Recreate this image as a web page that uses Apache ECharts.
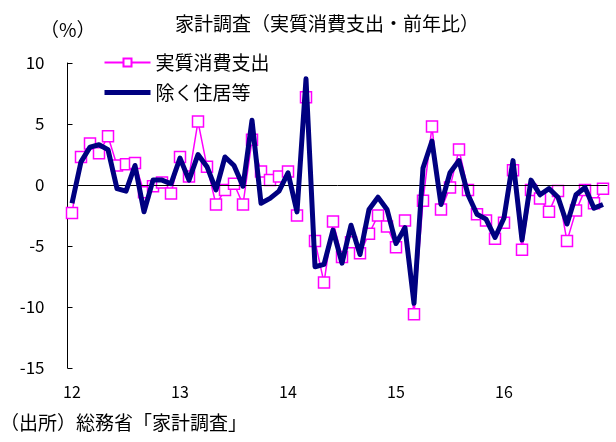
<!DOCTYPE html>
<html>
<head>
<meta charset="utf-8">
<script src="https://cdn.jsdelivr.net/npm/echarts@6/dist/echarts.min.js"></script>
<style>
html,body{margin:0;padding:0;background:#fff;}
#chart{width:616px;height:442px;}
</style>
</head>
<body>
<div id="chart"></div>
<script>
// ---- data ----
const years = [12, 13, 14, 15, 16];
const tickLabels = ["12", "13", "14", "15", "16"];
const seriesNames = ["実質消費支出", "除く住居等"];
// 実質消費支出 (y/y %), Jan 2012 - Dec 2016
const realConsumption = [
  -2.3, 2.3, 3.4, 2.6, 4.0, 1.6, 1.7, 1.8, -0.6, -0.1, 0.2, -0.7,
  2.3, 0.7, 5.2, 1.5, -1.6, -0.4, 0.1, -1.6, 3.7, 1.1, 0.4, 0.7,
  1.1, -2.5, 7.2, -4.6, -8.0, -3.0, -5.9, -4.7, -5.6, -4.0, -2.5, -3.4,
  -5.1, -2.9, -10.6, -1.3, 4.8, -2.0, -0.2, 2.9, -0.4, -2.4, -2.9, -4.4,
  -3.1, 1.2, -5.3, -0.4, -1.1, -2.2, -0.5, -4.6, -2.1, -0.4, -1.5, -0.3
];
// 除く住居等 (y/y %)
const exHousing = [
  -1.5, 1.9, 3.1, 3.3, 2.9, -0.3, -0.5, 1.6, -2.2, 0.4, 0.4, 0.1,
  2.2, 0.4, 2.5, 1.5, -0.4, 2.3, 1.6, -0.1, 5.3, -1.5, -1.1, -0.5,
  1.0, -2.2, 8.7, -6.7, -6.5, -3.7, -6.4, -3.3, -5.7, -2.0, -1.0, -2.0,
  -4.8, -3.5, -9.7, 1.4, 3.6, -1.6, 1.0, 2.0, -0.8, -2.4, -2.8, -4.3,
  -2.7, 2.0, -4.5, 0.4, -0.8, -0.3, -1.0, -3.2, -0.8, -0.2, -1.9, -1.6
];
const titleText = "家計調査（実質消費支出・前年比）";
const unitText = "（%）";
const sourceText = "（出所）総務省「家計調査」";

// categories: one per month
const categories = [];
years.forEach((y, yi) => {
  for (let m = 1; m <= 12; m++) categories.push(m === 1 ? tickLabels[yi] : y + "/" + m);
});

const FONT = '"Noto Sans CJK JP", "Noto Sans", sans-serif';
const chart = echarts.init(document.getElementById('chart'), null, {renderer: 'canvas'});
chart.setOption({
  animation: false,
  backgroundColor: '#fff',
  textStyle: {fontFamily: FONT, color: '#000'},
  title: {
    text: titleText,
    left: 170, top: 9,
    textStyle: {fontFamily: FONT, fontSize: 19, fontWeight: 'normal', color: '#000'}
  },
  graphic: [
    {type: 'text', left: 40, top: 20, style: {text: unitText, font: '19px ' + FONT, fill: '#000'}},
    {type: 'text', left: 0, top: 413, style: {text: sourceText, font: '19px ' + FONT, fill: '#000'}}
  ],
  legend: {
    orient: 'vertical',
    left: 102, top: 53, padding: 0,
    itemWidth: 46, itemHeight: 10, itemGap: 11,
    textStyle: {fontFamily: FONT, fontSize: 19, color: '#000', padding: [0, 0, 0, 0]},
    data: [
      {name: seriesNames[0]},
      {name: seriesNames[1], itemStyle: {opacity: 0}, lineStyle: {width: 5, color: '#000080'}}
    ]
  },
  grid: {left: 67.5, top: 63, width: 540, height: 305, containLabel: false},
  xAxis: {
    type: 'category',
    data: categories,
    boundaryGap: true,
    axisLine: {show: false, onZero: false},
    axisTick: {show: false},
    axisLabel: {
      interval: 11, margin: 16,
      fontSize: 16, fontFamily: FONT, color: '#000',
      formatter: v => (tickLabels.indexOf(v) >= 0 ? v : '')
    },
    splitLine: {show: false}
  },
  yAxis: {
    type: 'value',
    min: -15, max: 10, interval: 5,
    axisLine: {show: true, onZero: false, lineStyle: {color: '#000', width: 1}},
    axisTick: {show: true, inside: true, length: 5, lineStyle: {color: '#000'}},
    axisLabel: {margin: 23, fontSize: 17, fontFamily: FONT, color: '#000'},
    splitLine: {show: false}
  },
  series: [
    {
      name: seriesNames[0],
      type: 'line',
      data: realConsumption,
      z: 2,
      symbol: 'rect',
      symbolSize: 11,
      showAllSymbol: true,
      itemStyle: {color: '#ffffff', borderColor: '#ff00ff', borderWidth: 1.5},
      lineStyle: {color: '#ff00ff', width: 1.5},
      color: '#ff00ff',
      markLine: {
        silent: true, symbol: ['none', 'none'],
        label: {show: false},
        lineStyle: {color: '#000', width: 1, type: 'solid'},
        data: [{yAxis: 0}]
      }
    },
    {
      name: seriesNames[1],
      type: 'line',
      data: exHousing,
      z: 5,
      symbol: 'none',
      color: '#000080',
      lineStyle: {color: '#000080', width: 5, join: 'round'}
    }
  ]
});
</script>
</body>
</html>
